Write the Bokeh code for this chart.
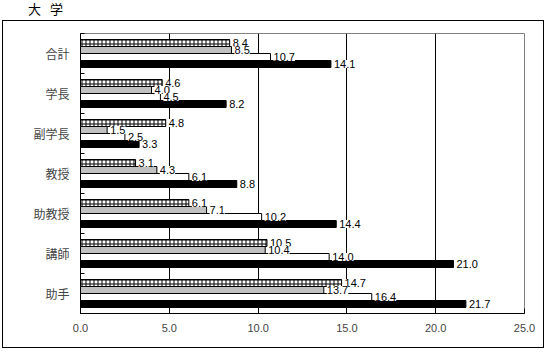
from bokeh.plotting import figure
from bokeh.models import Range1d, FixedTicker, ColumnDataSource, Div, Spacer
from bokeh.layouts import column, row
from bokeh.core.properties import value
from bokeh.embed import file_html
from bokeh.resources import INLINE

categories = ["合計", "学長", "副学長", "教授", "助教授", "講師", "助手"]
series_hatched = [8.4, 4.6, 4.8, 3.1, 6.1, 10.5, 14.7]
series_gray = [8.5, 4.0, 1.5, 4.3, 7.1, 10.4, 13.7]
series_white = [10.7, 4.5, 2.5, 6.1, 10.2, 14.0, 16.4]
series_black = [14.1, 8.2, 3.3, 8.8, 14.4, 21.0, 21.7]
x_ticks = [0, 5, 10, 15, 20, 25]
x_tick_labels = ["0.0", "5.0", "10.0", "15.0", "20.0", "25.0"]
title_text = "大 学"

n = len(categories)
p = figure(width=542, height=328, output_backend="svg", toolbar_location=None,
           x_range=Range1d(0, 25), y_range=Range1d(n, 0),
           min_border_left=77, min_border_right=21, min_border_top=12, min_border_bottom=36,
           margin=(0, 0, 0, 2), styles={"border": "1px solid black"})
p.background_fill_color = "white"
p.border_fill_color = "white"
p.outline_line_color = "#808080"
p.outline_line_width = 1

bar_h = 0.175
offsets = [0.2375, 0.4125, 0.5875, 0.7625]
styles = [
    dict(fill_color="white", hatch_pattern="+", hatch_color="black", hatch_scale=4, hatch_weight=1),
    dict(fill_color="#c0c0c0"),
    dict(fill_color="white"),
    dict(fill_color="black"),
]
all_series = [series_hatched, series_gray, series_white, series_black]
sources = []
for vals, off, st in zip(all_series, offsets, styles):
    src = ColumnDataSource(dict(y=[i + off for i in range(n)], right=vals,
                                label=[f"{v:.1f}" for v in vals]))
    sources.append(src)
    p.hbar(y="y", left=0, right="right", height=bar_h, source=src,
           line_color="black", line_width=1, **st)
for src in sources:
    p.text(x="right", y="y", text="label", source=src, x_offset=3,
           text_baseline="middle", text_align="left", text_font_size="11px",
           text_font=value("Liberation Sans"), text_color="black",
           background_fill_color="white")

# x axis
p.xaxis.ticker = FixedTicker(ticks=x_ticks)
p.xaxis.major_label_overrides = {t: l for t, l in zip(x_ticks, x_tick_labels)}
p.xaxis.major_tick_in = 5
p.xaxis.major_tick_out = 0
p.xaxis.minor_tick_line_color = None
p.xaxis.major_label_standoff = 10
p.xaxis.major_label_text_font = "Liberation Sans"
p.xaxis.major_label_text_font_size = "11px"
p.xaxis.axis_line_color = "black"

# y axis
p.yaxis.ticker = FixedTicker(ticks=[i + 0.5 for i in range(n)], minor_ticks=list(range(n + 1)))
p.yaxis.major_label_overrides = {i + 0.5: c for i, c in enumerate(categories)}
p.yaxis.major_tick_in = 0
p.yaxis.major_tick_out = 0
p.yaxis.minor_tick_in = 4
p.yaxis.minor_tick_out = 0
p.yaxis.major_label_standoff = 11
p.yaxis.major_label_text_font = "Noto Sans CJK JP"
p.yaxis.major_label_text_font_size = "12px"

p.xgrid.ticker = FixedTicker(ticks=[5, 10, 15, 20])
p.xgrid.grid_line_color = "black"
p.ygrid.grid_line_color = None

title = Div(text=title_text, width=512, height=20, margin=(0, 0, 0, 0),
            styles={"font-family": "Noto Sans CJK JP", "font-size": "13px",
                    "font-weight": "normal", "letter-spacing": "3px",
                    "white-space": "pre", "line-height": "17px"})
title_row = row(Spacer(width=28, height=20, margin=(0, 0, 0, 0)), title, spacing=0,
                margin=(0, 0, 0, 0))

layout = column(title_row, p, spacing=0, margin=(0, 0, 0, 0))
open("out.html", "w").write(file_html(layout, INLINE))
